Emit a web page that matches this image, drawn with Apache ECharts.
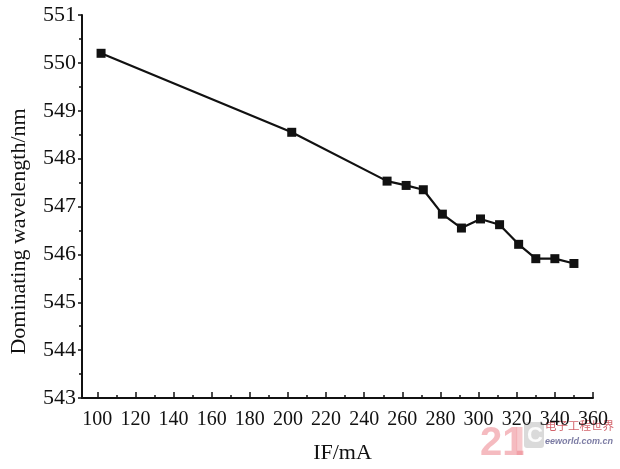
<!DOCTYPE html>
<html>
<head>
<meta charset="utf-8">
<script src="https://cdn.jsdelivr.net/npm/echarts@6/dist/echarts.min.js"></script>
<style>html,body{margin:0;padding:0;background:#fff}#c{width:620px;height:469px}</style>
</head>
<body>
<div id="c"></div>
<script>
const currentIF = [102, 202, 252, 262, 271, 281, 291, 301, 311, 321, 330, 340, 350];
const wavelength = [550.2, 548.55, 547.53, 547.44, 547.35, 546.84, 546.55, 546.74, 546.62, 546.21, 545.91, 545.91, 545.81];
const xTickLabels = [100, 120, 140, 160, 180, 200, 220, 240, 260, 280, 300, 320, 340, 360];
const xMinorTicks = [110, 130, 150, 170, 190, 210, 230, 250, 270, 290, 310, 330, 350];
const yTickLabels = [543, 544, 545, 546, 547, 548, 549, 550, 551];

const font = 'Liberation Serif';
const chart = echarts.init(document.getElementById('c'), null, {renderer: 'canvas'});
chart.setOption({
  animation: false,
  backgroundColor: '#fff',
  grid: {left: 78, right: 27, top: 15, bottom: 71, containLabel: false},
  xAxis: [{
    type: 'value', min: 92, max: 360,
    name: 'IF/mA', nameLocation: 'middle', nameGap: 44,
    nameTextStyle: {fontFamily: font, fontSize: 22, color: '#111', padding: [0, 0, 0, 10]},
    axisLine: {lineStyle: {color: '#111', width: 2}},
    axisTick: {show: true, inside: true, length: 6, customValues: xTickLabels, lineStyle: {color: '#111', width: 1.5}},
    axisLabel: {customValues: xTickLabels, fontFamily: font, fontSize: 20, color: '#111', margin: 12},
    splitLine: {show: false}
  }, {
    type: 'value', min: 92, max: 360, position: 'bottom',
    axisLine: {show: false},
    axisTick: {show: true, inside: true, length: 3, customValues: xMinorTicks, lineStyle: {color: '#111', width: 1.5}},
    axisLabel: {show: false},
    splitLine: {show: false}
  }],
  yAxis: {
    type: 'value', min: 543, max: 551, interval: 1,
    name: 'Dominating wavelength/nm', nameLocation: 'middle', nameGap: 52,
    nameTextStyle: {fontFamily: font, fontSize: 22, color: '#111', padding: [0, 50, 0, 0]},
    axisLine: {lineStyle: {color: '#111', width: 2}},
    axisTick: {show: true, length: 4, lineStyle: {color: '#111', width: 1.5}},
    minorTick: {show: true, splitNumber: 2, length: 3, lineStyle: {color: '#111', width: 1.5}},
    axisLabel: {fontFamily: font, fontSize: 22, color: '#111', margin: 6,
      customValues: yTickLabels},
    splitLine: {show: false}
  },
  series: [{
    type: 'line',
    data: currentIF.map((x, i) => [x, wavelength[i]]),
    symbol: 'rect', symbolSize: 9,
    lineStyle: {color: '#111', width: 2.2},
    itemStyle: {color: '#111'}
  }],
  graphic: [
    {type: 'text', left: 480, top: 424, style: {text: '21', fontFamily: 'Liberation Sans Narrow, Liberation Sans', fontWeight: 'bold', fontSize: 40, fill: 'rgba(235,120,130,0.5)'}},
    {type: 'text', left: 514, top: 424, style: {text: 'I', fontFamily: 'Liberation Sans', fontWeight: 'bold', fontSize: 40, fill: 'rgba(235,120,130,0.4)'}},
    {type: 'rect', shape: {x: 524, y: 422, width: 20, height: 26, r: 3}, style: {fill: 'rgba(150,150,150,0.35)'}},
    {type: 'text', left: 527, top: 425, style: {text: 'C', fontFamily: 'Liberation Sans', fontWeight: 'bold', fontSize: 22, fill: 'rgba(255,255,255,0.9)'}},
    {type: 'text', left: 545, top: 420, style: {text: '电子工程世界', fontFamily: 'Noto Sans CJK SC', fontSize: 11.5, fill: 'rgba(200,60,70,0.8)'}},
    {type: 'text', left: 545, top: 437, style: {text: 'eeworld.com.cn', fontFamily: 'Liberation Sans', fontStyle: 'italic', fontWeight: 'bold', fontSize: 9, fill: 'rgba(90,90,140,0.8)'}}
  ]
});
</script>
</body>
</html>
